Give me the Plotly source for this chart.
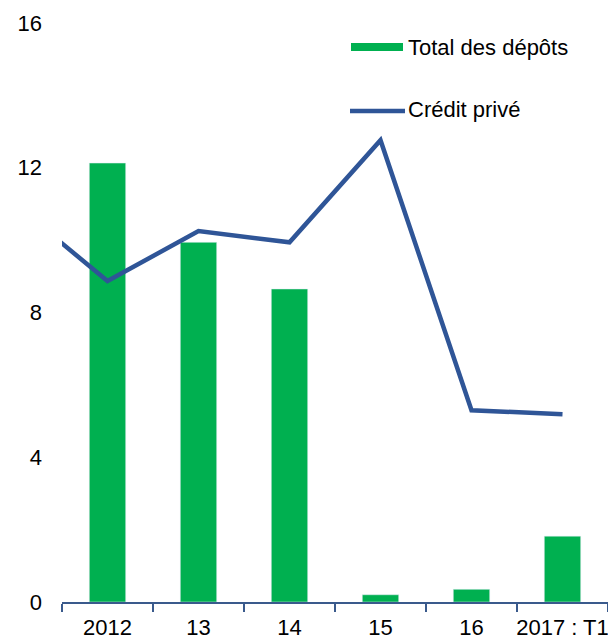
import plotly.graph_objects as go

categories = ["2011", "2012", "13", "14", "15", "16", "2017 : T1"]
depots = [None, 12.13, 9.94, 8.65, 0.2, 0.35, 1.82]
credit = [10.95, 8.87, 10.25, 9.94, 12.76, 5.30, 5.19]
y_ticks = [0, 4, 8, 12, 16]

FONT = "Liberation Sans, Arial, sans-serif"
GREEN = "#00B050"
BLUE = "#2F5597"
AXIS = "#3A5A8C"
FS = 22

W, H = 608, 636
L, R, T, B = 62, 0, 23, 34
PW, PH = W - L - R, H - T - B


def px(x):
    return (x - L) / PW


def py(y):
    return (H - B - y) / PH


fig = go.Figure()
fig.add_trace(go.Bar(x=categories, y=depots, marker_color=GREEN, width=0.4,
                     name="Total des dépôts", showlegend=False))
fig.add_trace(go.Scatter(x=categories, y=credit, mode="lines",
                         line=dict(color=BLUE, width=4.5),
                         name="Crédit privé", showlegend=False))

fig.update_layout(
    width=W, height=H,
    margin=dict(l=L, r=R, t=T, b=B, autoexpand=False),
    plot_bgcolor="white", paper_bgcolor="white",
    font=dict(family=FONT, size=FS, color="black"),
    xaxis=dict(type="category", range=[0.5, 6.5], tickson="boundaries",
               ticks="outside", ticklen=8, tickwidth=1.5, tickcolor=AXIS,
               showline=True, linecolor=AXIS, linewidth=1.5,
               showgrid=False, zeroline=False, tickfont=dict(size=FS),
               tickangle=0, automargin=False, ticklabelstandoff=5),
    yaxis=dict(range=[0, 16], tickvals=y_ticks, showgrid=False, zeroline=False,
               showline=False, ticks="", ticklabelstandoff=19,
               tickfont=dict(size=FS), automargin=False),
    shapes=[
        dict(type="rect", xref="paper", yref="paper",
             x0=px(351), x1=px(403), y0=py(51), y1=py(43),
             fillcolor=GREEN, line=dict(width=0)),
        dict(type="line", xref="paper", yref="paper",
             x0=px(350), x1=px(405), y0=py(111), y1=py(111),
             line=dict(color=BLUE, width=4.5)),
    ],
    annotations=[
        dict(text="Total des dépôts", xref="paper", yref="paper",
             x=px(406), y=py(47), xanchor="left", yanchor="middle",
             showarrow=False, font=dict(size=FS)),
        dict(text="Crédit privé", xref="paper", yref="paper",
             x=px(406), y=py(110), xanchor="left", yanchor="middle",
             showarrow=False, font=dict(size=FS)),
    ],
)

fig.write_html("out.html", config={"displayModeBar": False},
               post_script="document.body.style.margin='0';document.body.style.overflow='hidden';")
